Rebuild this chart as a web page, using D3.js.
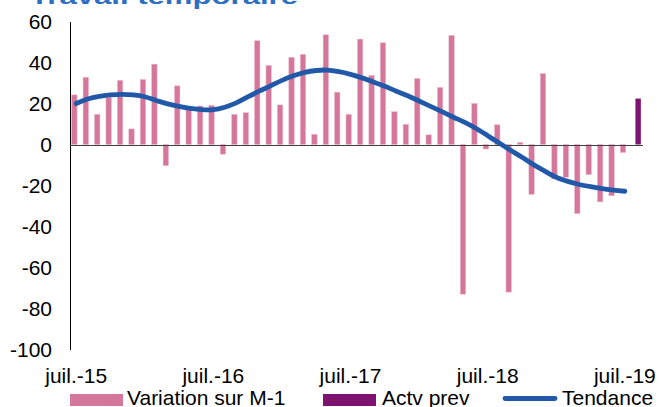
<!DOCTYPE html>
<html>
<head>
<meta charset="utf-8">
<script src="https://cdn.jsdelivr.net/npm/d3@7"></script>
<style>
  body { margin: 0; background: #fff; }
  svg { display: block; font-family: "Liberation Sans", Arial, sans-serif; }
</style>
</head>
<body>
<svg id="chart" width="659" height="407"></svg>
<script>
// Months (category axis)
const months = [
  'juil.-15', 'août-15', 'sept.-15', 'oct.-15', 'nov.-15', 'déc.-15',
  'janv.-16', 'févr.-16', 'mars-16', 'avr.-16', 'mai-16', 'juin-16',
  'juil.-16', 'août-16', 'sept.-16', 'oct.-16', 'nov.-16', 'déc.-16',
  'janv.-17', 'févr.-17', 'mars-17', 'avr.-17', 'mai-17', 'juin-17',
  'juil.-17', 'août-17', 'sept.-17', 'oct.-17', 'nov.-17', 'déc.-17',
  'janv.-18', 'févr.-18', 'mars-18', 'avr.-18', 'mai-18', 'juin-18',
  'juil.-18', 'août-18', 'sept.-18', 'oct.-18', 'nov.-18', 'déc.-18',
  'janv.-19', 'févr.-19', 'mars-19', 'avr.-19', 'mai-19', 'juin-19',
  'juil.-19', 'août-19'
];

// Variation sur M-1 (juil.-15 .. juil.-19)
const variation = [
  24.2, 32.8, 14.7, 22.9, 31.3, 7.6, 31.7, 39.2, -10.3, 28.6, 18, 18.8,
  19.1, -4.7, 14.7, 15.5, 50.6, 38.6, 19.3, 42.5, 44, 5, 53.5, 25.5,
  14.7, 51.4, 33.7, 49.6, 16, 9.8, 32.2, 4.7, 27.8, 53.2, -73, 20,
  -2.2, 9.6, -72, 1, -24.3, 34.6, -16.8, -16, -33.7, -14.7, -28, -25,
  -3.9
];

// Actv prev (only the last month)
const actvPrevMonths = ['août-19'];
const actvPrev = [22.4];

// Tendance (juil.-15 .. juil.-19)
const tendance = [
  20, 22.2, 23.5, 24.2, 24.5, 24.2, 23.3, 21.5, 19.8, 18.6, 17.6, 17,
  17, 18.2, 20.3, 23.2, 26, 28.6, 31.3, 33.5, 35.2, 36.1, 36.3, 35.5,
  34.2, 32.5, 30.5, 28.4, 26, 23.8, 21.2, 18.6, 16, 13.3, 10.8, 7.8,
  4.3, 0.7, -2.8, -6.2, -9.8, -13, -16, -18, -19.5, -20.6, -21.5, -22.2,
  -22.8
];

const yTicks = [60, 40, 20, 0, -20, -40, -60, -80, -100];
const xTickLabels = ['juil.-15', 'juil.-16', 'juil.-17', 'juil.-18', 'juil.-19'];
const seriesNames = ['Variation sur M-1', 'Actv prev', 'Tendance'];

const colors = {
  variation: '#d4779a',
  prev: '#7e1271',
  trend: '#2159a8',
  title: '#2f6fc1'
};

const svg = d3.select('#chart');

// Scales
const x = d3.scaleBand()
  .domain(months)
  .range([70.5, 642]);

// Offset of each bar series inside its month (Excel clustered bars)
const xSeries = d3.scalePoint()
  .domain(['variation', 'prev'])
  .range([-1.85, 1.85]);

const barWidth = 5.4;

const y = d3.scaleLinear()
  .domain([-100, 60])
  .range([349.5, 21.5]);

const center = d => x(d) + x.bandwidth() / 2;

// Title (mostly cut off at the top)
svg.append('text')
  .attr('x', 30)
  .attr('y', 3.5)
  .attr('textLength', 268)
  .attr('lengthAdjust', 'spacingAndGlyphs')
  .style('font-size', '22px')
  .style('font-weight', 'bold')
  .style('fill', colors.title)
  .text('Travail temporaire');

// Y axis (plain hyphen for negatives, as in the original)
const yAxis = svg.append('g')
  .attr('transform', 'translate(70,0)')
  .call(d3.axisLeft(y).tickValues(yTicks).tickSize(0).tickPadding(18)
    .tickFormat(d => String(d)));

yAxis.select('.domain').attr('stroke', '#000').attr('stroke-width', 1);
yAxis.selectAll('text')
  .style('font-size', '21px')
  .style('font-family', '"Liberation Sans", Arial, sans-serif')
  .attr('fill', '#000');

// Bars: Variation sur M-1
svg.append('g')
  .selectAll('rect')
  .data(variation)
  .join('rect')
  .attr('x', (d, i) => center(months[i]) + xSeries('variation') - barWidth / 2)
  .attr('y', d => y(Math.max(0, d)))
  .attr('width', barWidth)
  .attr('height', d => Math.abs(y(d) - y(0)))
  .attr('fill', colors.variation)
  .attr('stroke', '#ebb6c9')
  .attr('stroke-width', 0.5);

// Bars: Actv prev
svg.append('g')
  .selectAll('rect')
  .data(actvPrev)
  .join('rect')
  .attr('x', (d, i) => center(actvPrevMonths[i]) + xSeries('prev') - barWidth / 2)
  .attr('y', d => y(Math.max(0, d)))
  .attr('width', barWidth)
  .attr('height', d => Math.abs(y(d) - y(0)))
  .attr('fill', colors.prev);

// Zero line
svg.append('line')
  .attr('x1', 70)
  .attr('x2', x.range()[1] + 1)
  .attr('y1', Math.round(y(0)) + 0.5)
  .attr('y2', Math.round(y(0)) + 0.5)
  .attr('stroke', '#404040')
  .attr('stroke-width', 1);

// Trend line
const line = d3.line()
  .x((d, i) => center(months[i]))
  .y(d => y(d))
  .curve(d3.curveCatmullRom.alpha(0.5));

svg.append('path')
  .datum(tendance)
  .attr('d', line)
  .attr('fill', 'none')
  .attr('stroke', colors.trend)
  .attr('stroke-width', 4.8)
  .attr('stroke-linecap', 'round')
  .attr('stroke-linejoin', 'round');

// X axis labels (one per year)
const xAxis = svg.append('g')
  .attr('transform', 'translate(0,368)')
  .call(d3.axisBottom(x).tickValues(xTickLabels).tickSize(0).tickPadding(0));

xAxis.select('.domain').remove();
xAxis.selectAll('text')
  .style('font-size', '21px')
  .style('font-family', '"Liberation Sans", Arial, sans-serif')
  .attr('fill', '#000');

// Legend
const legendX = [70, 323, 503];
const legend = svg.append('g')
  .selectAll('g')
  .data(seriesNames)
  .join('g')
  .attr('transform', (d, i) => `translate(${legendX[i]},0)`);

legend.each(function (d, i) {
  const g = d3.select(this);
  if (i < 2) {
    g.append('rect')
      .attr('x', 0)
      .attr('y', 394)
      .attr('width', 53)
      .attr('height', 12)
      .attr('fill', i === 0 ? colors.variation : colors.prev);
  } else {
    g.append('line')
      .attr('x1', 2)
      .attr('x2', 52)
      .attr('y1', 398.5)
      .attr('y2', 398.5)
      .attr('stroke', colors.trend)
      .attr('stroke-width', 4.8)
      .attr('stroke-linecap', 'round');
  }
  g.append('text')
    .attr('x', i === 0 ? 57 : 59)
    .attr('y', 405)
    .style('font-size', '21px')
    .attr('fill', '#000')
    .text(d);
});
</script>
</body>
</html>
